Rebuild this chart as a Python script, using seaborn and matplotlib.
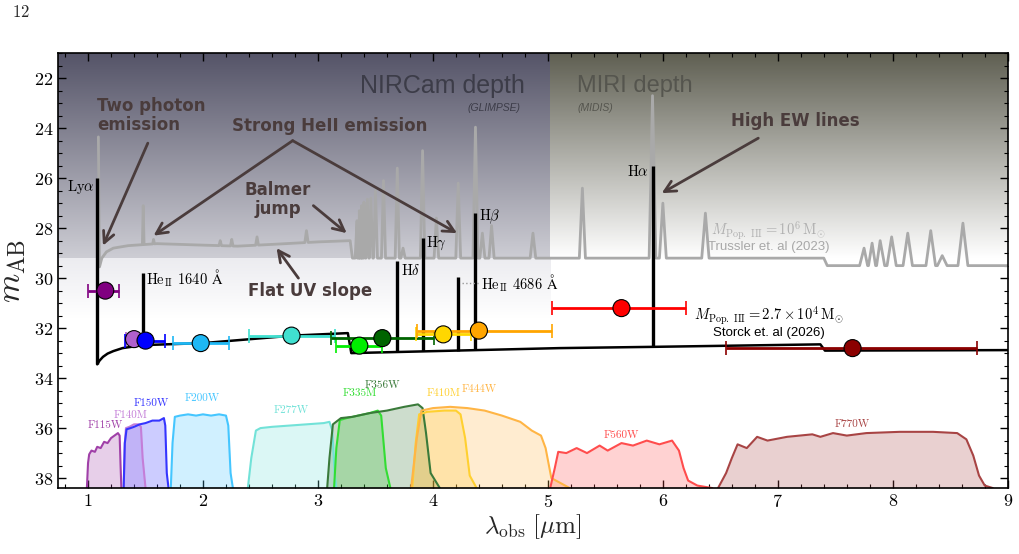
import numpy as np
import pandas as pd
import matplotlib
matplotlib.use("Agg")
import matplotlib.pyplot as plt
import seaborn as sns
from matplotlib.ticker import MultipleLocator, FuncFormatter

# ---------------------
# Data
# ---------------------
# photometry (NIRCam + MIRI)
filters = ["F115W", "F140M", "F150W", "F200W", "F277W", "F335M",
           "F356W", "F410M", "F444W", "F560W", "F770W"]
phot_lam = [1.15, 1.40, 1.50, 1.98, 2.77, 3.36, 3.56, 4.09, 4.40, 5.64, 7.65]
phot_mag = [30.5, 32.44, 32.5, 32.6, 32.3, 32.7, 32.4, 32.25, 32.1, 31.2, 32.8]
phot_lo = [1.00, 1.33, 1.32, 1.74, 2.40, 3.16, 3.11, 3.85, 3.86, 5.04, 6.55]
phot_hi = [1.27, 1.48, 1.67, 2.23, 3.15, 3.56, 4.01, 4.33, 5.04, 6.20, 8.73]
point_colors = ["#800080", "#b060cc", "#0000ff", "#1eb8f5", "#40e0d0", "#00ee00",
                "#006400", "#ffd700", "#ffa500", "#ff0000", "#8b0000"]

# filter transmission curves, drawn in magnitude space
filt_x = {
    "F115W": [0.99, 1.00, 1.01, 1.03, 1.06, 1.08, 1.11, 1.14, 1.17, 1.20, 1.23, 1.26, 1.275, 1.283, 1.29],
    "F140M": [1.31, 1.32, 1.33, 1.36, 1.40, 1.44, 1.46, 1.475, 1.50],
    "F150W": [1.31, 1.32, 1.335, 1.37, 1.40, 1.45, 1.50, 1.56, 1.62, 1.66, 1.672, 1.685, 1.70],
    "F200W": [1.72, 1.735, 1.755, 1.80, 1.87, 1.94, 2.00, 2.07, 2.14, 2.20, 2.22, 2.24, 2.26],
    "F277W": [2.39, 2.42, 2.46, 2.50, 2.60, 2.75, 2.90, 3.05, 3.10, 3.125, 3.145, 3.16],
    "F335M": [3.14, 3.16, 3.19, 3.25, 3.35, 3.45, 3.52, 3.55, 3.59, 3.63],
    "F356W": [3.08, 3.10, 3.13, 3.20, 3.30, 3.45, 3.60, 3.75, 3.87, 3.91, 3.94, 3.98, 4.06],
    "F410M": [3.82, 3.85, 3.88, 3.95, 4.10, 4.20, 4.24, 4.28, 4.32, 4.38],
    "F444W": [3.81, 3.86, 3.90, 4.00, 4.15, 4.30, 4.45, 4.60, 4.76, 4.86, 4.94, 4.98, 5.03, 5.19],
    "F560W": [5.02, 5.06, 5.09, 5.16, 5.25, 5.34, 5.45, 5.52, 5.64, 5.74, 5.86, 5.97,
              6.08, 6.14, 6.18, 6.22, 6.30, 6.43],
    "F770W": [6.48, 6.55, 6.60, 6.65, 6.73, 6.82, 6.91, 7.08, 7.30, 7.37, 7.48, 7.60,
              7.77, 8.06, 8.35, 8.56, 8.64, 8.70, 8.75, 8.80, 8.87],
}
filt_mag = {
    "F115W": [38.4, 37.4, 37.05, 36.9, 36.95, 36.75, 36.8, 36.55, 36.6, 36.4, 36.3, 36.2, 36.3, 37.5, 38.4],
    "F140M": [38.4, 36.6, 36.0, 35.95, 35.85, 35.85, 35.95, 37.2, 38.4],
    "F150W": [38.4, 36.6, 36.05, 36.0, 35.95, 35.85, 35.8, 35.7, 35.7, 35.6, 35.9, 37.8, 38.4],
    "F200W": [38.4, 36.6, 35.55, 35.5, 35.45, 35.5, 35.45, 35.5, 35.45, 35.5, 35.9, 37.8, 38.4],
    "F277W": [38.4, 37.2, 36.1, 36.0, 35.95, 35.9, 35.85, 35.8, 35.75, 36.1, 37.8, 38.4],
    "F335M": [38.4, 36.8, 35.68, 35.6, 35.5, 35.4, 35.3, 35.5, 37.6, 38.4],
    "F356W": [38.4, 37.2, 35.85, 35.6, 35.55, 35.4, 35.3, 35.15, 35.05, 35.2, 36.2, 37.8, 38.4],
    "F410M": [38.4, 36.6, 35.45, 35.35, 35.3, 35.3, 35.45, 36.4, 37.9, 38.4],
    "F444W": [38.4, 36.4, 35.3, 35.2, 35.15, 35.2, 35.3, 35.5, 35.75, 36.1, 36.3, 36.8, 38.0, 38.4],
    "F560W": [38.4, 37.6, 36.95, 37.0, 36.8, 37.0, 36.7, 36.9, 36.6, 36.7, 36.5, 36.65,
              36.5, 36.9, 37.6, 38.1, 38.3, 38.4],
    "F770W": [38.4, 37.8, 37.2, 36.65, 36.8, 36.35, 36.5, 36.35, 36.25, 36.35, 36.2, 36.3,
              36.2, 36.15, 36.15, 36.2, 36.45, 37.1, 37.9, 38.3, 38.4],
}
filt_colors = {"F115W": "#a040a8", "F140M": "#c47ed8", "F150W": "#3535ff", "F200W": "#45c6ff",
               "F277W": "#72e2d8", "F335M": "#33dd33", "F356W": "#3a7a3a", "F410M": "#ffd030",
               "F444W": "#ffb545", "F560W": "#ff4d4d", "F770W": "#a84444"}
filt_label_pos = {"F115W": (1.15, 35.9), "F140M": (1.37, 35.5), "F150W": (1.55, 35.0),
                  "F200W": (1.99, 34.8), "F277W": (2.77, 35.3), "F335M": (3.36, 34.6),
                  "F356W": (3.56, 34.3), "F410M": (4.09, 34.6), "F444W": (4.40, 34.45),
                  "F560W": (5.64, 36.3), "F770W": (7.65, 35.85)}

# Trussler et al. (2023) model: continuum knots + emission lines
trus_cont_x = [1.10, 1.12, 1.16, 1.22, 1.35, 1.60, 2.00, 2.30, 2.60, 3.00, 3.28, 3.30, 7.40, 7.43, 9.00]
trus_cont_y = [29.55, 29.2, 28.95, 28.8, 28.7, 28.62, 28.68, 28.72, 28.65, 28.55, 28.5, 29.2, 29.2, 29.5, 29.5]
trus_lya = (1.09, 24.35)
trus_line_x = [1.48, 1.57, 2.15, 2.25, 2.47, 2.90, 3.34, 3.36, 3.38, 3.40, 3.43, 3.46, 3.50,
               3.57, 3.69, 3.74, 3.91, 4.03, 4.22, 4.37, 4.43, 4.51, 4.87, 5.30, 5.91, 6.00,
               6.37, 7.75, 7.82, 7.89, 7.99, 8.13, 8.33, 8.43, 8.61]
trus_line_y = [27.1, 28.45, 28.5, 28.45, 28.35, 28.1, 27.7, 27.3, 27.1, 26.96, 26.84, 26.8, 26.5,
               26.1, 25.6, 28.8, 24.9, 27.6, 26.2, 23.96, 28.2, 27.9, 28.2, 26.4, 22.7, 27.0,
               27.4, 28.8, 28.6, 28.5, 28.35, 28.2, 28.1, 29.1, 27.8]

# Storck et al. (2026) model
stor_cont_x = [1.08, 1.10, 1.13, 1.17, 1.22, 1.30, 1.48, 2.00, 2.78, 3.26, 3.29, 5.10, 5.91, 7.37, 7.41, 9.00]
stor_cont_y = [33.45, 33.3, 33.15, 33.02, 32.92, 32.8, 32.68, 32.6, 32.3, 32.2, 33.0, 32.8, 32.75, 32.65, 32.9, 32.88]
stor_line_x = [1.08, 1.48, 3.69, 3.91, 4.22, 4.37, 5.91]
stor_line_top = [26.0, 29.8, 29.3, 28.4, 29.96, 27.4, 25.5]
stor_line_names = [r"Ly$\alpha$", r"He$_{\rm II}$ 1640 $\rm\AA$", r"H$\delta$", r"H$\gamma$",
                   r"He$_{\rm II}$ 4686 $\rm\AA$", r"H$\beta$", r"H$\alpha$"]


def add_peaks(cx, cy, lx, ly, start=None):
    # continuum knots with triangular emission lines inserted
    pts = list(zip(cx, cy))
    for x0, top in zip(lx, ly):
        hw = 0.005 * x0
        pts.append((x0 - hw, np.interp(x0 - hw, cx, cy)))
        pts.append((x0, top))
        pts.append((x0 + hw, np.interp(x0 + hw, cx, cy)))
    pts.sort(key=lambda p: p[0])
    if start is not None:
        pts = [start] + pts
    return pd.DataFrame(pts, columns=["lam", "mag"])


def gradient(ax, x0, x1, y0, y1, c0, c1):
    c0 = np.array(c0) / 255.0
    c1 = np.array(c1) / 255.0
    t = np.linspace(0, 1, 256)[:, None, None]
    img = c0 + (c1 - c0) * t
    ax.imshow(img, extent=[x0, x1, y1, y0], origin="upper", aspect="auto",
              interpolation="bilinear", zorder=0)


def main():
    sns.set_theme(style="ticks")
    plt.rcParams.update({
        "font.family": ["serif"],
        "font.serif": ["cmr10", "DejaVu Serif"],
        "mathtext.fontset": "cm",
        "axes.formatter.use_mathtext": True,
        "axes.edgecolor": "black",
        "axes.linewidth": 1.2,
        "xtick.color": "black",
        "ytick.color": "black",
    })

    fig = plt.figure(figsize=(10.2, 5.54), dpi=100)
    ax = fig.add_axes([0.057, 0.119, 0.931, 0.785])

    # depth backgrounds
    gradient(ax, 0.74, 5.02, 21.0, 29.2, (85, 84, 104), (205, 205, 212))
    gradient(ax, 0.74, 5.02, 29.2, 31.6, (236, 236, 240), (255, 255, 255))
    gradient(ax, 5.02, 9.0, 21.0, 29.2, (95, 95, 82), (255, 255, 255))

    # filter curves
    for f in filters:
        c = filt_colors[f]
        ax.fill_between(filt_x[f], filt_mag[f], 38.4, color=c, alpha=0.25, lw=0, zorder=1)
        sns.lineplot(x=filt_x[f], y=filt_mag[f], sort=False, estimator=None, color=c,
                     lw=1.5, ax=ax, zorder=1.5)
        lx, ly = filt_label_pos[f]
        ax.text(lx, ly, f, color=c, fontsize=8, ha="center", va="center", zorder=2)

    # Trussler model (grey)
    trus = add_peaks(trus_cont_x, trus_cont_y, trus_line_x, trus_line_y, start=trus_lya)
    sns.lineplot(data=trus, x="lam", y="mag", sort=False, estimator=None,
                 color="#a9a9a9", lw=2, ax=ax, zorder=2)

    # Storck model (black)
    stor = pd.DataFrame({"lam": stor_cont_x, "mag": stor_cont_y})
    sns.lineplot(data=stor, x="lam", y="mag", sort=False, estimator=None,
                 color="black", lw=1.8, ax=ax, zorder=3)
    base = np.interp(stor_line_x, stor_cont_x, stor_cont_y)
    ax.vlines(stor_line_x, base, stor_line_top, color="black", lw=2.4, zorder=3)

    lab_kw = dict(fontsize=10.5, color="black", zorder=4, va="center")
    ax.text(1.055, 26.35, stor_line_names[0], ha="right", **lab_kw)
    ax.text(1.50, 30.0, stor_line_names[1], ha="left", **lab_kw)
    ax.text(3.72, 29.7, stor_line_names[2], ha="left", **lab_kw)
    ax.text(3.94, 28.6, stor_line_names[3], ha="left", **lab_kw)
    ax.plot([4.25, 4.41], [30.2, 30.2], ls=":", color="#999999", lw=1, zorder=3)
    ax.text(4.42, 30.2, stor_line_names[4], ha="left", **lab_kw)
    ax.text(4.40, 27.55, stor_line_names[5], ha="left", **lab_kw)
    ax.text(5.88, 25.75, stor_line_names[6], ha="right", **lab_kw)

    # photometry
    df = pd.DataFrame({"filter": filters, "lam": phot_lam, "mag": phot_mag,
                       "lo": phot_lo, "hi": phot_hi})
    for i, row in df.iterrows():
        ax.errorbar(row["lam"], row["mag"],
                    xerr=[[row["lam"] - row["lo"]], [row["hi"] - row["lam"]]],
                    fmt="none", ecolor=point_colors[i], elinewidth=2, capsize=5,
                    capthick=1.2, zorder=4)
    sns.scatterplot(data=df, x="lam", y="mag", hue="filter", palette=point_colors,
                    s=150, edgecolor="black", linewidth=0.8, legend=False, ax=ax, zorder=6)

    # model labels
    ax.text(6.92, 28.1, r"$M_{\rm Pop.\ III} = 10^6\,{\rm M}_{\odot}$", color="#b0b0b0",
            fontsize=10.5, ha="center", va="center", zorder=4)
    ax.text(6.92, 28.75, "Trussler et. al (2023)", color="#a8a8a8", fontsize=9.5,
            family="Liberation Sans", ha="center", va="center", zorder=4)
    ax.text(6.92, 31.5, r"$M_{\rm Pop.\ III} = 2.7\times10^4\,{\rm M}_{\odot}$", color="black",
            fontsize=10.5, ha="center", va="center", zorder=4)
    ax.text(6.92, 32.2, "Storck et. al (2026)", color="black", fontsize=9.5,
            family="Liberation Sans", ha="center", va="center", zorder=4)

    # survey depth labels
    ax.text(4.08, 22.3, "NIRCam depth", color="#3c3c48", fontsize=18,
            family="Liberation Sans", ha="center", va="center", zorder=1)
    ax.text(4.53, 23.2, "(GLIMPSE)", color="#3c3c48", fontsize=7.5, style="italic",
            family="Liberation Sans", ha="center", va="center", zorder=1)
    ax.text(5.76, 22.3, "MIRI depth", color="#55554e", fontsize=17,
            family="Liberation Sans", ha="center", va="center", zorder=1)
    ax.text(5.41, 23.2, "(MIDIS)", color="#55554e", fontsize=7.5, style="italic",
            family="Liberation Sans", ha="center", va="center", zorder=1)

    # feature annotations
    ann_col = "#4a3c3c"
    ann_kw = dict(color=ann_col, fontsize=12, fontweight="heavy", family="DejaVu Sans",
                  zorder=5, linespacing=1.1)
    arr = dict(arrowstyle="->", color=ann_col, lw=2, mutation_scale=20, shrinkA=0, shrinkB=0)
    ax.text(1.08, 23.5, "Two photon\nemission", ha="left", va="center", **ann_kw)
    ax.annotate("", xy=(1.13, 28.7), xytext=(1.52, 24.6), arrowprops=arr, zorder=5)
    ax.text(3.10, 23.9, "Strong HeII emission", ha="center", va="center", **ann_kw)
    ax.annotate("", xy=(1.57, 28.3), xytext=(2.78, 24.5), arrowprops=arr, zorder=5)
    ax.annotate("", xy=(4.21, 28.2), xytext=(2.78, 24.5), arrowprops=arr, zorder=5)
    ax.text(2.65, 26.85, "Balmer\njump", ha="center", va="center", **ann_kw)
    ax.annotate("", xy=(3.25, 28.2), xytext=(2.96, 27.1), arrowprops=arr, zorder=5)
    ax.text(2.93, 30.5, "Flat UV slope", ha="center", va="center", **ann_kw)
    ax.annotate("", xy=(2.64, 28.8), xytext=(2.83, 30.0), arrowprops=arr, zorder=5)
    ax.text(7.15, 23.7, "High EW lines", ha="center", va="center", **ann_kw)
    ax.annotate("", xy=(5.99, 26.6), xytext=(6.83, 24.4), arrowprops=arr, zorder=5)

    # axes styling
    ax.set_xlim(0.74, 9.0)
    ax.set_ylim(38.4, 21.0)
    ax.xaxis.set_major_locator(MultipleLocator(1))
    ax.xaxis.set_minor_locator(MultipleLocator(0.2))
    ax.yaxis.set_major_locator(MultipleLocator(2))
    ax.yaxis.set_minor_locator(MultipleLocator(0.5))
    math_fmt = FuncFormatter(lambda v, pos: f"${v:g}$")
    ax.xaxis.set_major_formatter(math_fmt)
    ax.yaxis.set_major_formatter(math_fmt)
    ax.tick_params(which="both", direction="in", top=True, right=True, labelsize=13)
    ax.tick_params(which="major", length=6, width=1)
    ax.tick_params(which="minor", length=3, width=0.8)
    ax.set_xlabel(r"$\lambda_{\rm obs}\ [\mu{\rm m}]$", fontsize=18, labelpad=2)
    ax.set_ylabel(r"$m_{\rm AB}$", fontsize=24, labelpad=4)

    fig.text(0.012, 0.978, r"$12$", fontsize=12, ha="left", va="center")

    fig.savefig("out.png", dpi=100)
    plt.close(fig)


if __name__ == "__main__":
    main()
